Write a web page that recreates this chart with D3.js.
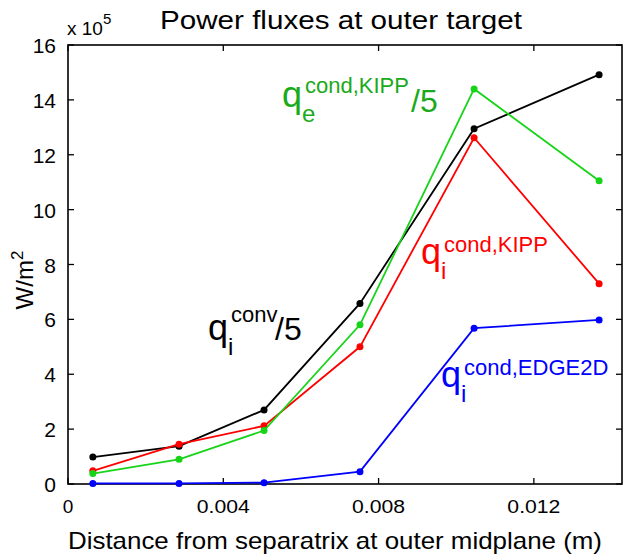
<!DOCTYPE html>
<html>
<head>
<meta charset="utf-8">
<script src="https://cdn.jsdelivr.net/npm/d3@7"></script>
<style>
  html, body { margin: 0; padding: 0; background: #fff; }
  svg { display: block; font-family: "Liberation Sans", Arial, sans-serif; }
</style>
</head>
<body>
<svg id="chart" width="627" height="558"></svg>
<script>
// Distance from separatrix (m)
const distance = [0.00064, 0.00286, 0.00505, 0.00752, 0.01046, 0.01368];

// Power fluxes in units of 1e5 W/m^2
const qiConv5      = [0.98, 1.38, 2.70, 6.58, 12.95, 14.92];
const qiCondKipp   = [0.48, 1.45, 2.12, 5.00, 12.62, 7.30];
const qeCondKipp5  = [0.38, 0.90, 1.95, 5.80, 14.40, 11.05];
const qiCondEdge2d = [0.02, 0.02, 0.05, 0.45, 5.68, 5.98];

const xTicks = [0, 0.004, 0.008, 0.012];
const xTickLabels = ["0", "0.004", "0.008", "0.012"];
const yTicks = [0, 2, 4, 6, 8, 10, 12, 14, 16];

const series = [
  { name: "qiConv5",      values: qiConv5,      color: "#000000" },
  { name: "qiCondKipp",   values: qiCondKipp,   color: "#ff0000" },
  { name: "qeCondKipp5",  values: qeCondKipp5,  color: "#18d418" },
  { name: "qiCondEdge2d", values: qiCondEdge2d, color: "#0000ff" }
];

const svg = d3.select("#chart");
const m = { left: 68, right: 5, top: 45, bottom: 74 };
const W = 627, H = 558;

const x = d3.scaleLinear().domain([0, 0.01427]).range([m.left, W - m.right]);
const y = d3.scaleLinear().domain([0, 16]).range([H - m.bottom, m.top]);

// Axis box
svg.append("rect")
  .attr("x", x(0)).attr("y", y(16))
  .attr("width", x.range()[1] - x(0)).attr("height", y(0) - y(16))
  .attr("fill", "none").attr("stroke", "#000").attr("stroke-width", 1.6);

const tickLen = 6;
// x ticks (bottom and top, inward)
xTicks.forEach((t, i) => {
  const px = x(t);
  svg.append("line").attr("x1", px).attr("x2", px)
    .attr("y1", y(0)).attr("y2", y(0) - tickLen).attr("stroke", "#000").attr("stroke-width", 1.3);
  svg.append("line").attr("x1", px).attr("x2", px)
    .attr("y1", y(16)).attr("y2", y(16) + tickLen).attr("stroke", "#000").attr("stroke-width", 1.3);
  const lbl = svg.append("text").attr("x", px).attr("y", y(0) + 29)
    .attr("text-anchor", "middle").attr("font-size", 19).text(xTickLabels[i]);
  if (xTickLabels[i].length > 1) lbl.attr("textLength", 53).attr("lengthAdjust", "spacingAndGlyphs");
});

// y ticks (left and right, inward)
yTicks.forEach(t => {
  const py = y(t);
  svg.append("line").attr("x1", x(0)).attr("x2", x(0) + tickLen)
    .attr("y1", py).attr("y2", py).attr("stroke", "#000").attr("stroke-width", 1.3);
  svg.append("line").attr("x1", x.range()[1]).attr("x2", x.range()[1] - tickLen)
    .attr("y1", py).attr("y2", py).attr("stroke", "#000").attr("stroke-width", 1.3);
  svg.append("text").attr("x", x(0) - 12).attr("y", py + 8)
    .attr("text-anchor", "end").attr("font-size", 21).text(t);
});

// Exponent marker
const ex = svg.append("text").attr("x", 67).attr("y", 35).attr("font-size", 19);
ex.append("tspan").text("x 10");
ex.append("tspan").attr("dy", -11).attr("font-size", 15).text("5");

// Title
svg.append("text").attr("x", 160).attr("y", 29)
  .attr("font-size", 26).attr("textLength", 362).attr("lengthAdjust", "spacingAndGlyphs")
  .text("Power fluxes at outer target");

// Axis labels
svg.append("text").attr("x", 68).attr("y", 549)
  .attr("font-size", 24).attr("textLength", 534).attr("lengthAdjust", "spacingAndGlyphs")
  .text("Distance from separatrix at outer midplane (m)");

const yl = svg.append("text").attr("transform", "translate(33,280) rotate(-90)")
  .attr("text-anchor", "middle").attr("font-size", 24);
yl.append("tspan").text("W/m");
yl.append("tspan").attr("dy", -10).attr("font-size", 17).text("2");

// Lines and markers
const line = d3.line().x((d, i) => x(distance[i])).y(d => y(d));
series.forEach(s => {
  svg.append("path").datum(s.values)
    .attr("d", line).attr("fill", "none")
    .attr("stroke", s.color).attr("stroke-width", 1.8);
  svg.selectAll(null).data(s.values).enter().append("circle")
    .attr("cx", (d, i) => x(distance[i])).attr("cy", d => y(d))
    .attr("r", 3.5).attr("fill", s.color);
});

// Series annotations: q with sub- and superscript
function qLabel(px, py, sub, sup, color, supDy, tail) {
  const g = svg.append("g").attr("fill", color);
  g.append("text").attr("x", px - 2).attr("y", py).attr("font-size", 36).text("q");
  g.append("text").attr("x", px + 18).attr("y", py + 15).attr("font-size", 24).text(sub);
  g.append("text").attr("x", px + 21).attr("y", py + supDy).attr("font-size", 22).text(sup);
  if (tail) {
    g.append("text").attr("x", px + tail.dx).attr("y", py + (tail.dy || 0))
      .attr("font-size", 32).text(tail.text);
  }
}

qLabel(284, 107, "e", "cond,KIPP", "#1aaa1a", -14, { dx: 127, dy: 5, text: "/5" });
qLabel(423, 264, "i", "cond,KIPP", "#ff0000", -12);
qLabel(210, 340, "i", "conv", "#000000", -18, { dx: 65, text: "/5" });
qLabel(443, 387, "i", "cond,EDGE2D", "#0000ff", -12);
</script>
</body>
</html>
